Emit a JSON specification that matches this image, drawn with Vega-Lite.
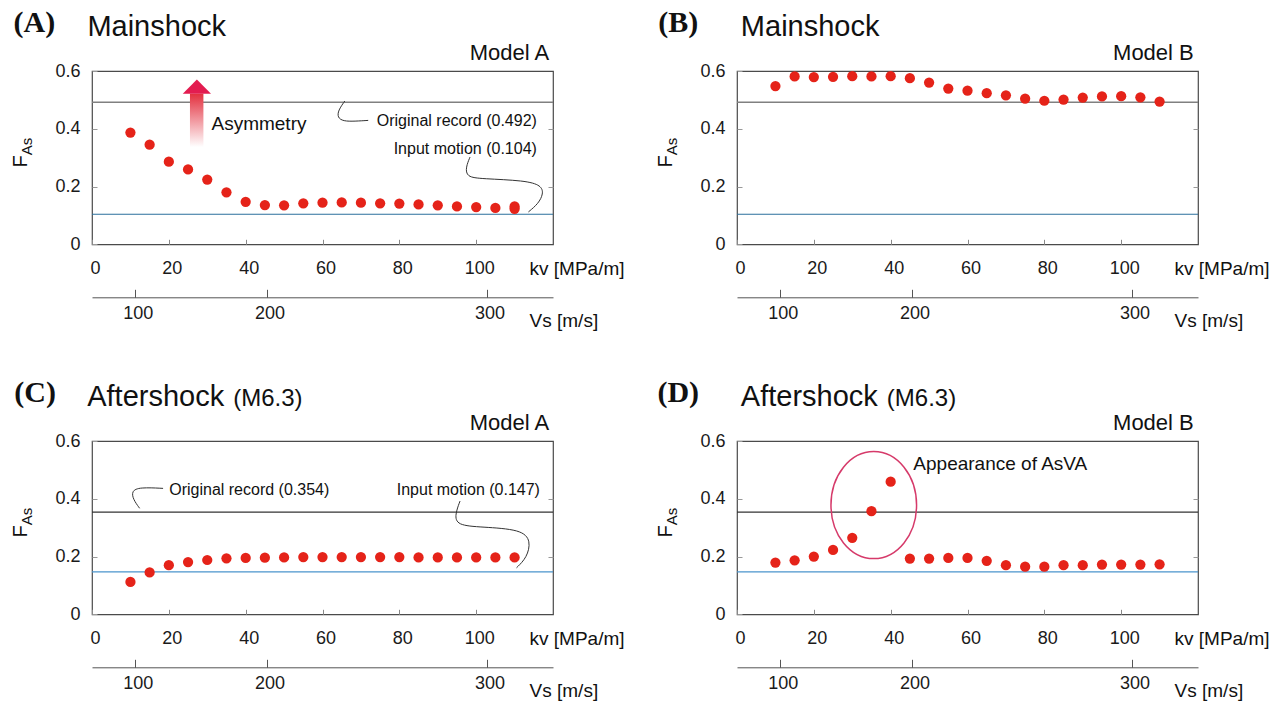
{
  "$schema": "https://vega.github.io/schema/vega-lite/v6.json",
  "background": "white",
  "padding": {"left": 10, "top": 7, "right": 5, "bottom": 2},
  "config": {
    "font": "Liberation Sans",
    "view": {"stroke": "#4a4a4a", "strokeWidth": 1.2},
    "text": {"baseline": "alphabetic", "color": "#111111", "font": "Liberation Sans"},
    "axis": {"labelFont": "Liberation Sans", "labelColor": "#1a1a1a", "grid": false}
  },
  "datasets": {
    "ptsA": [
      {"kv": 10, "F": 0.387}, {"kv": 15, "F": 0.345}, {"kv": 20, "F": 0.286}, {"kv": 25, "F": 0.259},
      {"kv": 30, "F": 0.224}, {"kv": 35, "F": 0.180}, {"kv": 40, "F": 0.147}, {"kv": 45, "F": 0.136},
      {"kv": 50, "F": 0.135}, {"kv": 55, "F": 0.142}, {"kv": 60, "F": 0.144}, {"kv": 65, "F": 0.145},
      {"kv": 70, "F": 0.144}, {"kv": 75, "F": 0.142}, {"kv": 80, "F": 0.141}, {"kv": 85, "F": 0.138},
      {"kv": 90, "F": 0.135}, {"kv": 95, "F": 0.131}, {"kv": 100, "F": 0.129}, {"kv": 105, "F": 0.126},
      {"kv": 110, "F": 0.131}, {"kv": 110, "F": 0.123}
    ],
    "ptsB": [
      {"kv": 10, "F": 0.548}, {"kv": 15, "F": 0.581}, {"kv": 20, "F": 0.579}, {"kv": 25, "F": 0.580},
      {"kv": 30, "F": 0.582}, {"kv": 35, "F": 0.581}, {"kv": 40, "F": 0.582}, {"kv": 45, "F": 0.575},
      {"kv": 50, "F": 0.560}, {"kv": 55, "F": 0.539}, {"kv": 60, "F": 0.532}, {"kv": 65, "F": 0.523},
      {"kv": 70, "F": 0.516}, {"kv": 75, "F": 0.504}, {"kv": 80, "F": 0.497}, {"kv": 85, "F": 0.501},
      {"kv": 90, "F": 0.508}, {"kv": 95, "F": 0.512}, {"kv": 100, "F": 0.513}, {"kv": 105, "F": 0.509},
      {"kv": 110, "F": 0.494}
    ],
    "ptsC": [
      {"kv": 10, "F": 0.112}, {"kv": 15, "F": 0.145}, {"kv": 20, "F": 0.170}, {"kv": 25, "F": 0.181},
      {"kv": 30, "F": 0.188}, {"kv": 35, "F": 0.194}, {"kv": 40, "F": 0.195}, {"kv": 45, "F": 0.196},
      {"kv": 50, "F": 0.197}, {"kv": 55, "F": 0.198}, {"kv": 60, "F": 0.198}, {"kv": 65, "F": 0.198},
      {"kv": 70, "F": 0.198}, {"kv": 75, "F": 0.198}, {"kv": 80, "F": 0.198}, {"kv": 85, "F": 0.197},
      {"kv": 90, "F": 0.197}, {"kv": 95, "F": 0.197}, {"kv": 100, "F": 0.197}, {"kv": 105, "F": 0.197},
      {"kv": 110, "F": 0.197}
    ],
    "ptsD": [
      {"kv": 10, "F": 0.179}, {"kv": 15, "F": 0.187}, {"kv": 20, "F": 0.200}, {"kv": 25, "F": 0.223},
      {"kv": 30, "F": 0.265}, {"kv": 35, "F": 0.357}, {"kv": 40, "F": 0.459}, {"kv": 45, "F": 0.193},
      {"kv": 50, "F": 0.193}, {"kv": 55, "F": 0.195}, {"kv": 60, "F": 0.195}, {"kv": 65, "F": 0.185},
      {"kv": 70, "F": 0.170}, {"kv": 75, "F": 0.165}, {"kv": 80, "F": 0.165}, {"kv": 85, "F": 0.170},
      {"kv": 90, "F": 0.170}, {"kv": 95, "F": 0.172}, {"kv": 100, "F": 0.172}, {"kv": 105, "F": 0.172},
      {"kv": 110, "F": 0.173}
    ],
    "leaders": [
      {"panel": "A", "curve": "orig", "i": 1, "kv": 65.8, "F": 0.496},
      {"panel": "A", "curve": "orig", "i": 2, "kv": 64.1, "F": 0.464},
      {"panel": "A", "curve": "orig", "i": 3, "kv": 63.9, "F": 0.439},
      {"panel": "A", "curve": "orig", "i": 4, "kv": 65.4, "F": 0.426},
      {"panel": "A", "curve": "orig", "i": 5, "kv": 68.4, "F": 0.426},
      {"panel": "A", "curve": "orig", "i": 6, "kv": 71.9, "F": 0.429},
      {"panel": "A", "curve": "input", "i": 1, "kv": 98.4, "F": 0.302},
      {"panel": "A", "curve": "input", "i": 2, "kv": 97.3, "F": 0.267},
      {"panel": "A", "curve": "input", "i": 3, "kv": 97.5, "F": 0.233},
      {"panel": "A", "curve": "input", "i": 4, "kv": 101.4, "F": 0.227},
      {"panel": "A", "curve": "input", "i": 5, "kv": 112.7, "F": 0.221},
      {"panel": "A", "curve": "input", "i": 6, "kv": 117.0, "F": 0.204},
      {"panel": "A", "curve": "input", "i": 7, "kv": 117.5, "F": 0.175},
      {"panel": "A", "curve": "input", "i": 8, "kv": 116.2, "F": 0.141},
      {"panel": "A", "curve": "input", "i": 9, "kv": 113.6, "F": 0.112},
      {"panel": "C", "curve": "orig", "i": 1, "kv": 18.5, "F": 0.436},
      {"panel": "C", "curve": "orig", "i": 2, "kv": 12.4, "F": 0.440},
      {"panel": "C", "curve": "orig", "i": 3, "kv": 10.3, "F": 0.427},
      {"panel": "C", "curve": "orig", "i": 4, "kv": 10.7, "F": 0.398},
      {"panel": "C", "curve": "orig", "i": 5, "kv": 12.4, "F": 0.367},
      {"panel": "C", "curve": "input", "i": 1, "kv": 95.8, "F": 0.392},
      {"panel": "C", "curve": "input", "i": 2, "kv": 94.5, "F": 0.346},
      {"panel": "C", "curve": "input", "i": 3, "kv": 94.9, "F": 0.308},
      {"panel": "C", "curve": "input", "i": 4, "kv": 101.4, "F": 0.302},
      {"panel": "C", "curve": "input", "i": 5, "kv": 111.8, "F": 0.294},
      {"panel": "C", "curve": "input", "i": 6, "kv": 114.3, "F": 0.254},
      {"panel": "C", "curve": "input", "i": 7, "kv": 113.2, "F": 0.196},
      {"panel": "C", "curve": "input", "i": 8, "kv": 110.5, "F": 0.161}
    ]
  },
  "columns": 2,
  "spacing": {"row": 196, "column": 184},
  "bounds": "flush",
  "concat": [
    {
      "width": 461, "height": 173.3,
      "resolve": {"scale": {"x": "independent", "y": "independent"}},
      "layer": [
        {"layer": [
          {"data": {"values": [{}]}, "mark": {"type": "rule", "color": "#808080", "strokeWidth": 1.6}, "encoding": {"y": {"datum": 0.492}}},
          {"data": {"values": [{}]}, "mark": {"type": "rule", "color": "#2b6f9c", "strokeWidth": 1.2}, "encoding": {"y": {"datum": 0.104}}},
          {"data": {"name": "leaders"}, "transform": [{"filter": "datum.panel == 'A'"}],
           "mark": {"type": "line", "color": "#333333", "strokeWidth": 1, "interpolate": "basis"},
           "encoding": {"x": {"field": "kv", "type": "quantitative"}, "y": {"field": "F", "type": "quantitative"}, "detail": {"field": "curve"}, "order": {"field": "i", "type": "quantitative"}}},
          {"data": {"values": [{}]},
           "mark": {"type": "rect", "fill": {"gradient": "linear", "x1": 0, "y1": 0, "x2": 0, "y2": 1, "stops": [{"offset": 0, "color": "#e3303f"}, {"offset": 1, "color": "#ffffff"}]}},
           "encoding": {"x": {"datum": 25.5}, "x2": {"datum": 29.0}, "y": {"datum": 0.5216}, "y2": {"datum": 0.3368}}},
          {"data": {"values": [{}]}, "mark": {"type": "point", "shape": "M-1,0.5L0,-0.5L1,0.5Z", "size": 800, "filled": true, "color": "#e31c50", "opacity": 1}, "encoding": {"x": {"datum": 27.3}, "y": {"datum": 0.546}}},
          {"data": {"values": [{}]}, "mark": {"type": "text", "text": "Asymmetry", "fontSize": 19, "align": "left"}, "encoding": {"x": {"datum": 31.1}, "y": {"datum": 0.3946}}},
          {"data": {"values": [{}]}, "mark": {"type": "text", "text": "Original record (0.492)", "fontSize": 16, "align": "right"}, "encoding": {"x": {"datum": 115.8}, "y": {"datum": 0.41}}},
          {"data": {"values": [{}]}, "mark": {"type": "text", "text": "Input motion (0.104)", "fontSize": 16, "align": "right"}, "encoding": {"x": {"datum": 115.8}, "y": {"datum": 0.314}}},
          {"data": {"name": "ptsA"}, "mark": {"type": "point", "filled": true, "size": 105, "color": "#e52319", "opacity": 1},
           "encoding": {
             "x": {"field": "kv", "type": "quantitative", "scale": {"domain": [0, 120], "nice": false, "zero": false},
                   "axis": {"orient": "bottom", "values": [0, 20, 40, 60, 80, 100], "domain": false, "tickSize": -5, "tickColor": "#888888", "labelFontSize": 18, "labelPadding": 20, "labelOffset": 3, "labelFlush": false, "title": null}},
             "y": {"field": "F", "type": "quantitative", "scale": {"domain": [0, 0.6], "nice": false, "zero": false},
                   "axis": {"values": [0, 0.2, 0.4, 0.6], "format": "~g", "domain": false, "tickSize": -5, "tickColor": "#999999", "labelFontSize": 18, "labelPadding": 17, "title": null}}
           }},
          {"data": {"values": [{}]}, "mark": {"type": "text", "text": "(A)", "font": "Liberation Serif", "fontWeight": "bold", "fontSize": 30, "align": "center"}, "encoding": {"x": {"datum": -15}, "y": {"datum": 0.736}}},
          {"data": {"values": [{}]}, "mark": {"type": "text", "text": "Mainshock", "fontSize": 29, "align": "left"}, "encoding": {"x": {"datum": -1.2}, "y": {"datum": 0.72}}},
          {"data": {"values": [{}]}, "mark": {"type": "text", "text": "Model A", "fontSize": 22, "align": "right"}, "encoding": {"x": {"datum": 119}, "y": {"datum": 0.6395}}},
          {"data": {"values": [{}]}, "mark": {"type": "text", "text": "F", "fontSize": 20, "angle": 270, "align": "center"}, "encoding": {"x": {"datum": -16.8}, "y": {"datum": 0.287}}},
          {"data": {"values": [{}]}, "mark": {"type": "text", "text": "As", "fontSize": 15, "angle": 270, "align": "center"}, "encoding": {"x": {"datum": -15.5}, "y": {"datum": 0.339}}},
          {"data": {"values": [{}]}, "mark": {"type": "text", "text": "kv [MPa/m]", "fontSize": 19, "align": "left"}, "encoding": {"x": {"datum": 113.9}, "y": {"datum": -0.107}}},
          {"data": {"values": [{}]}, "mark": {"type": "text", "text": "Vs [m/s]", "fontSize": 19, "align": "left"}, "encoding": {"x": {"datum": 113.9}, "y": {"datum": -0.286}}}
        ]},
        {"data": {"values": [{}]}, "mark": {"type": "point", "opacity": 0},
         "encoding": {
           "x": {"datum": 100, "type": "quantitative", "scale": {"type": "pow", "exponent": 2, "domain": [17.5, 324.2], "nice": false, "zero": false},
                 "axis": {"orient": "bottom", "offset": 53, "values": [100, 200, 300], "domain": true, "domainColor": "#555555", "tickColor": "#555555", "tickSize": -8, "labelPadding": 15, "labelFontSize": 18, "labelOffset": 3, "labelFlush": false, "title": null}},
           "y": {"datum": 0.3, "type": "quantitative", "scale": {"domain": [0, 0.6], "nice": false, "zero": false},
                 "axis": {"orient": "right", "values": [0.2, 0.4], "labels": false, "domain": false, "tickSize": -5, "tickColor": "#999999", "title": null}}
         }}
      ]
    },
    {
      "width": 461, "height": 173.3,
      "resolve": {"scale": {"x": "independent", "y": "independent"}},
      "layer": [
        {"layer": [
          {"data": {"values": [{}]}, "mark": {"type": "rule", "color": "#808080", "strokeWidth": 1.6}, "encoding": {"y": {"datum": 0.492}}},
          {"data": {"values": [{}]}, "mark": {"type": "rule", "color": "#2b6f9c", "strokeWidth": 1.2}, "encoding": {"y": {"datum": 0.104}}},
          {"data": {"name": "ptsB"}, "mark": {"type": "point", "filled": true, "size": 105, "color": "#e52319", "opacity": 1},
           "encoding": {
             "x": {"field": "kv", "type": "quantitative", "scale": {"domain": [0, 120], "nice": false, "zero": false},
                   "axis": {"orient": "bottom", "values": [0, 20, 40, 60, 80, 100], "domain": false, "tickSize": -5, "tickColor": "#888888", "labelFontSize": 18, "labelPadding": 20, "labelOffset": 3, "labelFlush": false, "title": null}},
             "y": {"field": "F", "type": "quantitative", "scale": {"domain": [0, 0.6], "nice": false, "zero": false},
                   "axis": {"values": [0, 0.2, 0.4, 0.6], "format": "~g", "domain": false, "tickSize": -5, "tickColor": "#999999", "labelFontSize": 18, "labelPadding": 17, "title": null}}
           }},
          {"data": {"values": [{}]}, "mark": {"type": "text", "text": "(B)", "font": "Liberation Serif", "fontWeight": "bold", "fontSize": 30, "align": "center"}, "encoding": {"x": {"datum": -15.3}, "y": {"datum": 0.736}}},
          {"data": {"values": [{}]}, "mark": {"type": "text", "text": "Mainshock", "fontSize": 29, "align": "left"}, "encoding": {"x": {"datum": 1.0}, "y": {"datum": 0.72}}},
          {"data": {"values": [{}]}, "mark": {"type": "text", "text": "Model B", "fontSize": 22, "align": "right"}, "encoding": {"x": {"datum": 118.9}, "y": {"datum": 0.6395}}},
          {"data": {"values": [{}]}, "mark": {"type": "text", "text": "F", "fontSize": 20, "angle": 270, "align": "center"}, "encoding": {"x": {"datum": -16.8}, "y": {"datum": 0.287}}},
          {"data": {"values": [{}]}, "mark": {"type": "text", "text": "As", "fontSize": 15, "angle": 270, "align": "center"}, "encoding": {"x": {"datum": -15.5}, "y": {"datum": 0.339}}},
          {"data": {"values": [{}]}, "mark": {"type": "text", "text": "kv [MPa/m]", "fontSize": 19, "align": "left"}, "encoding": {"x": {"datum": 113.9}, "y": {"datum": -0.107}}},
          {"data": {"values": [{}]}, "mark": {"type": "text", "text": "Vs [m/s]", "fontSize": 19, "align": "left"}, "encoding": {"x": {"datum": 113.9}, "y": {"datum": -0.286}}}
        ]},
        {"data": {"values": [{}]}, "mark": {"type": "point", "opacity": 0},
         "encoding": {
           "x": {"datum": 100, "type": "quantitative", "scale": {"type": "pow", "exponent": 2, "domain": [17.5, 324.2], "nice": false, "zero": false},
                 "axis": {"orient": "bottom", "offset": 53, "values": [100, 200, 300], "domain": true, "domainColor": "#555555", "tickColor": "#555555", "tickSize": -8, "labelPadding": 15, "labelFontSize": 18, "labelOffset": 3, "labelFlush": false, "title": null}},
           "y": {"datum": 0.3, "type": "quantitative", "scale": {"domain": [0, 0.6], "nice": false, "zero": false},
                 "axis": {"orient": "right", "values": [0.2, 0.4], "labels": false, "domain": false, "tickSize": -5, "tickColor": "#999999", "title": null}}
         }}
      ]
    },
    {
      "width": 461, "height": 173.3,
      "resolve": {"scale": {"x": "independent", "y": "independent"}},
      "layer": [
        {"layer": [
          {"data": {"values": [{}]}, "mark": {"type": "rule", "color": "#333333", "strokeWidth": 1.2}, "encoding": {"y": {"datum": 0.354}}},
          {"data": {"values": [{}]}, "mark": {"type": "rule", "color": "#4a94cc", "strokeWidth": 1.2}, "encoding": {"y": {"datum": 0.147}}},
          {"data": {"name": "leaders"}, "transform": [{"filter": "datum.panel == 'C'"}],
           "mark": {"type": "line", "color": "#333333", "strokeWidth": 1, "interpolate": "basis"},
           "encoding": {"x": {"field": "kv", "type": "quantitative"}, "y": {"field": "F", "type": "quantitative"}, "detail": {"field": "curve"}, "order": {"field": "i", "type": "quantitative"}}},
          {"data": {"values": [{}]}, "mark": {"type": "text", "text": "Original record (0.354)", "fontSize": 16, "align": "left"}, "encoding": {"x": {"datum": 20.1}, "y": {"datum": 0.413}}},
          {"data": {"values": [{}]}, "mark": {"type": "text", "text": "Input motion (0.147)", "fontSize": 16, "align": "right"}, "encoding": {"x": {"datum": 116.6}, "y": {"datum": 0.413}}},
          {"data": {"name": "ptsC"}, "mark": {"type": "point", "filled": true, "size": 105, "color": "#e52319", "opacity": 1},
           "encoding": {
             "x": {"field": "kv", "type": "quantitative", "scale": {"domain": [0, 120], "nice": false, "zero": false},
                   "axis": {"orient": "bottom", "values": [0, 20, 40, 60, 80, 100], "domain": false, "tickSize": -5, "tickColor": "#888888", "labelFontSize": 18, "labelPadding": 20, "labelOffset": 3, "labelFlush": false, "title": null}},
             "y": {"field": "F", "type": "quantitative", "scale": {"domain": [0, 0.6], "nice": false, "zero": false},
                   "axis": {"values": [0, 0.2, 0.4, 0.6], "format": "~g", "domain": false, "tickSize": -5, "tickColor": "#999999", "labelFontSize": 18, "labelPadding": 17, "title": null}}
           }},
          {"data": {"values": [{}]}, "mark": {"type": "text", "text": "(C)", "font": "Liberation Serif", "fontWeight": "bold", "fontSize": 30, "align": "center"}, "encoding": {"x": {"datum": -14.8}, "y": {"datum": 0.736}}},
          {"data": {"values": [{}]}, "mark": {"type": "text", "text": "Aftershock", "fontSize": 29, "align": "left"}, "encoding": {"x": {"datum": -1.25}, "y": {"datum": 0.72}}},
          {"data": {"values": [{}]}, "mark": {"type": "text", "text": "(M6.3)", "fontSize": 24, "align": "left", "dx": 146}, "encoding": {"x": {"datum": -1.25}, "y": {"datum": 0.72}}},
          {"data": {"values": [{}]}, "mark": {"type": "text", "text": "Model A", "fontSize": 22, "align": "right"}, "encoding": {"x": {"datum": 119}, "y": {"datum": 0.6395}}},
          {"data": {"values": [{}]}, "mark": {"type": "text", "text": "F", "fontSize": 20, "angle": 270, "align": "center"}, "encoding": {"x": {"datum": -16.8}, "y": {"datum": 0.287}}},
          {"data": {"values": [{}]}, "mark": {"type": "text", "text": "As", "fontSize": 15, "angle": 270, "align": "center"}, "encoding": {"x": {"datum": -15.5}, "y": {"datum": 0.339}}},
          {"data": {"values": [{}]}, "mark": {"type": "text", "text": "kv [MPa/m]", "fontSize": 19, "align": "left"}, "encoding": {"x": {"datum": 113.9}, "y": {"datum": -0.107}}},
          {"data": {"values": [{}]}, "mark": {"type": "text", "text": "Vs [m/s]", "fontSize": 19, "align": "left"}, "encoding": {"x": {"datum": 113.9}, "y": {"datum": -0.286}}}
        ]},
        {"data": {"values": [{}]}, "mark": {"type": "point", "opacity": 0},
         "encoding": {
           "x": {"datum": 100, "type": "quantitative", "scale": {"type": "pow", "exponent": 2, "domain": [17.5, 324.2], "nice": false, "zero": false},
                 "axis": {"orient": "bottom", "offset": 53, "values": [100, 200, 300], "domain": true, "domainColor": "#555555", "tickColor": "#555555", "tickSize": -8, "labelPadding": 15, "labelFontSize": 18, "labelOffset": 3, "labelFlush": false, "title": null}},
           "y": {"datum": 0.3, "type": "quantitative", "scale": {"domain": [0, 0.6], "nice": false, "zero": false},
                 "axis": {"orient": "right", "values": [0.2, 0.4], "labels": false, "domain": false, "tickSize": -5, "tickColor": "#999999", "title": null}}
         }}
      ]
    },
    {
      "width": 461, "height": 173.3,
      "resolve": {"scale": {"x": "independent", "y": "independent"}},
      "layer": [
        {"layer": [
          {"data": {"values": [{}]}, "mark": {"type": "rule", "color": "#333333", "strokeWidth": 1.2}, "encoding": {"y": {"datum": 0.354}}},
          {"data": {"values": [{}]}, "mark": {"type": "rule", "color": "#4a94cc", "strokeWidth": 1.2}, "encoding": {"y": {"datum": 0.147}}},
          {"data": {"values": [{}]}, "mark": {"type": "point", "shape": "M-0.8,0A0.8,1,0,1,0,0.8,0A0.8,1,0,1,0,-0.8,0Z", "size": 11449, "filled": false, "stroke": "#d63a6a", "strokeWidth": 1.5, "opacity": 1}, "encoding": {"x": {"datum": 35.6}, "y": {"datum": 0.378}}},
          {"data": {"values": [{}]}, "mark": {"type": "text", "text": "Appearance of AsVA", "fontSize": 19, "align": "left"}, "encoding": {"x": {"datum": 45.9}, "y": {"datum": 0.4985}}},
          {"data": {"name": "ptsD"}, "mark": {"type": "point", "filled": true, "size": 105, "color": "#e52319", "opacity": 1},
           "encoding": {
             "x": {"field": "kv", "type": "quantitative", "scale": {"domain": [0, 120], "nice": false, "zero": false},
                   "axis": {"orient": "bottom", "values": [0, 20, 40, 60, 80, 100], "domain": false, "tickSize": -5, "tickColor": "#888888", "labelFontSize": 18, "labelPadding": 20, "labelOffset": 3, "labelFlush": false, "title": null}},
             "y": {"field": "F", "type": "quantitative", "scale": {"domain": [0, 0.6], "nice": false, "zero": false},
                   "axis": {"values": [0, 0.2, 0.4, 0.6], "format": "~g", "domain": false, "tickSize": -5, "tickColor": "#999999", "labelFontSize": 18, "labelPadding": 17, "title": null}}
           }},
          {"data": {"values": [{}]}, "mark": {"type": "text", "text": "(D)", "font": "Liberation Serif", "fontWeight": "bold", "fontSize": 30, "align": "center"}, "encoding": {"x": {"datum": -15.3}, "y": {"datum": 0.736}}},
          {"data": {"values": [{}]}, "mark": {"type": "text", "text": "Aftershock", "fontSize": 29, "align": "left"}, "encoding": {"x": {"datum": 1.0}, "y": {"datum": 0.72}}},
          {"data": {"values": [{}]}, "mark": {"type": "text", "text": "(M6.3)", "fontSize": 24, "align": "left", "dx": 146}, "encoding": {"x": {"datum": 1.0}, "y": {"datum": 0.72}}},
          {"data": {"values": [{}]}, "mark": {"type": "text", "text": "Model B", "fontSize": 22, "align": "right"}, "encoding": {"x": {"datum": 118.9}, "y": {"datum": 0.6395}}},
          {"data": {"values": [{}]}, "mark": {"type": "text", "text": "F", "fontSize": 20, "angle": 270, "align": "center"}, "encoding": {"x": {"datum": -16.8}, "y": {"datum": 0.287}}},
          {"data": {"values": [{}]}, "mark": {"type": "text", "text": "As", "fontSize": 15, "angle": 270, "align": "center"}, "encoding": {"x": {"datum": -15.5}, "y": {"datum": 0.339}}},
          {"data": {"values": [{}]}, "mark": {"type": "text", "text": "kv [MPa/m]", "fontSize": 19, "align": "left"}, "encoding": {"x": {"datum": 113.9}, "y": {"datum": -0.107}}},
          {"data": {"values": [{}]}, "mark": {"type": "text", "text": "Vs [m/s]", "fontSize": 19, "align": "left"}, "encoding": {"x": {"datum": 113.9}, "y": {"datum": -0.286}}}
        ]},
        {"data": {"values": [{}]}, "mark": {"type": "point", "opacity": 0},
         "encoding": {
           "x": {"datum": 100, "type": "quantitative", "scale": {"type": "pow", "exponent": 2, "domain": [17.5, 324.2], "nice": false, "zero": false},
                 "axis": {"orient": "bottom", "offset": 53, "values": [100, 200, 300], "domain": true, "domainColor": "#555555", "tickColor": "#555555", "tickSize": -8, "labelPadding": 15, "labelFontSize": 18, "labelOffset": 3, "labelFlush": false, "title": null}},
           "y": {"datum": 0.3, "type": "quantitative", "scale": {"domain": [0, 0.6], "nice": false, "zero": false},
                 "axis": {"orient": "right", "values": [0.2, 0.4], "labels": false, "domain": false, "tickSize": -5, "tickColor": "#999999", "title": null}}
         }}
      ]
    }
  ]
}
